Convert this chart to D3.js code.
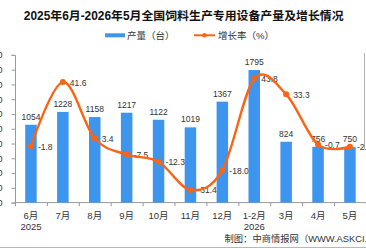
<!DOCTYPE html>
<html><head><meta charset="utf-8">
<script src="https://cdn.jsdelivr.net/npm/d3@7"></script>
<style>
html,body{margin:0;padding:0;background:#fff;overflow:hidden}
svg{display:block}
text{font-family:"Liberation Sans","Noto Sans CJK SC",sans-serif}
</style></head>
<body><svg id="c" width="366" height="248"></svg>
<script>
const categories = ["6月","7月","8月","9月","10月","11月","12月","1-2月","3月","4月","5月"];
const yearLabels = ["2025","","","","","","","2026","","",""];
const output = [1054,1228,1158,1217,1122,1019,1367,1795,824,756,750];
const growth = [-1.8,41.6,3.4,-7.5,-12.3,-31.4,-18.0,43.8,33.3,-0.7,-2.2];
const leftTicks = [0,200,400,600,800,1000,1200,1400,1600,1800,2000];
const title = "2025年6月-2026年5月全国饲料生产专用设备产量及增长情况";
const legendLabels = ["产量（台）","增长率（%）"];
const source = "制图：中商情报网（WWW.ASKCI.COM）";

const blue = "#3d95ee", orange = "#fa6414", axisCol = "#9a9a9a", txt = "#333";
const svg = d3.select("#c");
const x0 = 15, plotTop = 54.9, plotBottom = 202.6;
const x = d3.scaleBand().domain(categories).range([x0, x0 + 31.9*categories.length]).padding(0);
const y = d3.scaleLinear().domain([0,2000]).range([plotBottom, plotTop]);
const y2 = d3.scaleLinear().domain([-40,60]).range([plotBottom, plotTop]);
const barW = 11.5;

// title
svg.append("text").attr("x",183.7).attr("y",19.5).attr("text-anchor","middle")
  .attr("font-size","11.9px").attr("font-weight","bold").attr("fill","#111")
  .attr("font-family","'Noto Sans CJK SC',sans-serif").text(title);

// legend
svg.append("rect").attr("x",105).attr("y",33.3).attr("width",20).attr("height",4).attr("fill",blue);
svg.append("text").attr("x",127).attr("y",38.5).attr("font-size","9.5px").attr("fill",txt).text(legendLabels[0]);
svg.append("line").attr("x1",194).attr("x2",215).attr("y1",35.3).attr("y2",35.3).attr("stroke",orange).attr("stroke-width",2);
svg.append("circle").attr("cx",204.5).attr("cy",35.3).attr("r",2.3).attr("fill",orange);
svg.append("text").attr("x",218).attr("y",38.5).attr("font-size","9.5px").attr("fill",txt).text(legendLabels[1]);

// left axis
const ax = svg.append("g").attr("transform",`translate(${x0},0)`)
  .call(d3.axisLeft(y).tickValues(leftTicks).tickSize(3.5).tickPadding(9));
ax.select(".domain").attr("stroke",axisCol);
ax.selectAll(".tick line").attr("stroke",axisCol);
ax.selectAll(".tick text").attr("font-size","9px").attr("fill",txt).attr("font-family","'Liberation Sans',sans-serif");

// right axis line
svg.append("line").attr("x1",364.5).attr("x2",364.5).attr("y1",plotTop-2).attr("y2",149).attr("stroke","#b0b0b0");

// x axis
const xa = svg.append("g").attr("transform",`translate(0,${plotBottom})`);
xa.append("line").attr("x1",x0).attr("x2",x.range()[1]).attr("stroke",axisCol);
const bounds = categories.map(c => x(c)).concat([x.range()[1]]);
xa.selectAll("line.tk").data(bounds).join("line").attr("class","tk")
  .attr("x1",d=>d+0.5).attr("x2",d=>d+0.5).attr("y1",0).attr("y2",3.5).attr("stroke",axisCol);
xa.selectAll("text.cat").data(categories).join("text").attr("class","cat")
  .attr("x",d=>x(d)+x.bandwidth()/2).attr("y",16).attr("text-anchor","middle")
  .attr("font-size","9.5px").attr("fill",txt).text(d=>d);
xa.selectAll("text.yr").data(yearLabels).join("text").attr("class","yr")
  .attr("x",(d,i)=>x(categories[i])+x.bandwidth()/2).attr("y",27).attr("text-anchor","middle")
  .attr("font-size","9.5px").attr("fill",txt).text(d=>d);

// bars
svg.selectAll("rect.bar").data(output).join("rect").attr("class","bar")
  .attr("x",(d,i)=>x(categories[i])+x.bandwidth()/2-barW/2).attr("width",barW)
  .attr("y",d=>y(d)).attr("height",d=>plotBottom-y(d)).attr("fill",blue);
svg.selectAll("text.bl").data(output).join("text").attr("class","bl")
  .attr("x",(d,i)=>x(categories[i])+x.bandwidth()/2).attr("y",d=>y(d)-5)
  .attr("text-anchor","middle").attr("font-size","8.5px").attr("fill",txt).text(d=>d);

// growth labels
const cx = i => x(categories[i])+x.bandwidth()/2;
svg.selectAll("text.gl").data(growth).join("text").attr("class","gl")
  .attr("x",(d,i)=>cx(i)+7).attr("y",d=>y2(d)+3.5)
  .attr("font-size","8.5px").attr("fill",txt).text(d=>d.toFixed(1));

// line
const line = d3.line().x((d,i)=>cx(i)).y(d=>y2(d)).curve(d3.curveCardinal.tension(0));
svg.append("path").datum(growth).attr("d",line).attr("fill","none").attr("stroke",orange).attr("stroke-width",2.4);
svg.selectAll("circle.pt").data(growth).join("circle").attr("class","pt")
  .attr("cx",(d,i)=>cx(i)).attr("cy",d=>y2(d)).attr("r",3).attr("fill",orange);

// source
svg.append("text").attr("x",224.5).attr("y",241.5).attr("font-size","9.3px").attr("fill",txt).text(source);
svg.append("line").attr("x1",0).attr("x2",366).attr("y1",247.5).attr("y2",247.5).attr("stroke","#b8b8b8");
</script></body></html>
